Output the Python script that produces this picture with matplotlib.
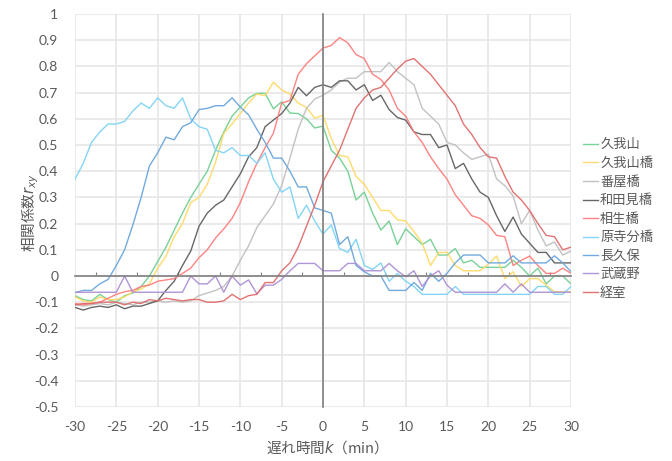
import numpy as np
import matplotlib
matplotlib.use('Agg')
import matplotlib.pyplot as plt

plt.rcParams['font.family'] = ['Lato', 'Noto Sans CJK JP', 'DejaVu Sans']
plt.rcParams['mathtext.fontset'] = 'dejavusans'

lags = list(range(-30, 31))

names = ['久我山', '久我山橋', '番屋橋', '和田見橋', '相生橋', '原寺分橋', '長久保', '武蔵野', '経室']
colors = ['#72cf92', '#ffd966', '#bfbfbf', '#5f5f5f', '#ff7c7c', '#7dd3f5', '#6aa6dc', '#ab8fd4', '#e06b6b']

kugayama = [-0.075, -0.09, -0.095, -0.07, -0.09, -0.10, -0.075, -0.065, -0.04, 0.0,
            0.055, 0.11, 0.175, 0.24, 0.30, 0.35, 0.40, 0.48, 0.55, 0.61,
            0.645, 0.68, 0.697, 0.697, 0.638, 0.665, 0.622, 0.62, 0.60, 0.565,
            0.572, 0.48, 0.45, 0.40, 0.29, 0.32, 0.24, 0.175, 0.21, 0.12,
            0.18, 0.15, 0.12, 0.14, 0.08, 0.08, 0.105, 0.05, 0.06, 0.033,
            0.033, 0.033, 0.033, 0.06, 0.033, 0.0, 0.03, -0.03, 0.0, 0.0,
            -0.03]
kugayama_bashi = [-0.08, -0.095, -0.10, -0.08, -0.09, -0.09, -0.08, -0.06, -0.05, -0.03,
                  0.03, 0.075, 0.15, 0.20, 0.28, 0.30, 0.35, 0.435, 0.545, 0.58,
                  0.62, 0.66, 0.695, 0.688, 0.74, 0.71, 0.695, 0.66, 0.643, 0.603,
                  0.613, 0.525, 0.46, 0.455, 0.38, 0.35, 0.30, 0.25, 0.25, 0.215,
                  0.21, 0.17, 0.125, 0.04, 0.09, 0.09, 0.04, 0.02, 0.02, 0.02,
                  0.045, 0.076, -0.01, 0.016, -0.04, -0.01, -0.01, -0.035, -0.06, -0.06,
                  -0.06]
banya = [-0.11, -0.115, -0.11, -0.105, -0.11, -0.10, -0.105, -0.11, -0.10, -0.10,
         -0.095, -0.10, -0.095, -0.10, -0.095, -0.075, -0.065, -0.055, -0.04, 0.0,
         0.06, 0.115, 0.185, 0.23, 0.275, 0.345, 0.45, 0.56, 0.64, 0.675,
         0.69, 0.71, 0.74, 0.755, 0.755, 0.78, 0.78, 0.78, 0.815, 0.78,
         0.755, 0.73, 0.64, 0.61, 0.58, 0.51, 0.50, 0.47, 0.445, 0.455,
         0.465, 0.37, 0.345, 0.305, 0.20, 0.25, 0.175, 0.115, 0.13, 0.08,
         0.095]
wadami = [-0.12, -0.13, -0.12, -0.115, -0.12, -0.11, -0.125, -0.115, -0.115, -0.105,
          -0.095, -0.055, -0.02, 0.04, 0.095, 0.19, 0.24, 0.27, 0.29, 0.34,
          0.39, 0.455, 0.49, 0.57, 0.595, 0.62, 0.66, 0.72, 0.688, 0.72,
          0.73, 0.72, 0.745, 0.745, 0.71, 0.73, 0.67, 0.69, 0.635, 0.605,
          0.595, 0.55, 0.54, 0.54, 0.49, 0.50, 0.41, 0.43, 0.37, 0.32,
          0.30, 0.23, 0.17, 0.225, 0.16, 0.125, 0.09, 0.09, 0.05, 0.05,
          0.05]
aioi = [-0.105, -0.11, -0.105, -0.10, -0.085, -0.07, -0.06, -0.055, -0.04, -0.035,
        -0.02, -0.015, -0.01, 0.01, 0.03, 0.07, 0.10, 0.145, 0.18, 0.22,
        0.28, 0.36, 0.43, 0.49, 0.545, 0.66, 0.67, 0.77, 0.81, 0.84,
        0.87, 0.88, 0.91, 0.89, 0.845, 0.83, 0.77, 0.75, 0.71, 0.64,
        0.61, 0.55, 0.51, 0.455, 0.41, 0.37, 0.31, 0.27, 0.23, 0.22,
        0.195, 0.155, 0.15, 0.04, 0.06, 0.076, 0.04, 0.01, 0.01, 0.03,
        0.01]
harajibun = [0.37, 0.43, 0.51, 0.55, 0.58, 0.58, 0.59, 0.63, 0.66, 0.64,
             0.68, 0.65, 0.64, 0.68, 0.60, 0.57, 0.56, 0.48, 0.47, 0.49,
             0.46, 0.46, 0.43, 0.47, 0.37, 0.32, 0.34, 0.22, 0.27, 0.21,
             0.16, 0.195, 0.105, 0.09, 0.14, 0.04, 0.025, 0.05, -0.02, 0.01,
             -0.02, -0.04, -0.07, -0.07, -0.07, -0.07, -0.04, -0.07, -0.07, -0.07,
             -0.07, -0.07, -0.07, -0.07, -0.07, -0.07, -0.04, -0.04, -0.07, -0.07,
             -0.04]
nagakubo = [-0.064, -0.055, -0.055, -0.03, -0.013, 0.04, 0.10, 0.195, 0.30, 0.42,
            0.47, 0.53, 0.52, 0.57, 0.585, 0.635, 0.64, 0.65, 0.65, 0.68,
            0.645, 0.615, 0.56, 0.51, 0.45, 0.45, 0.40, 0.34, 0.34, 0.26,
            0.25, 0.24, 0.12, 0.15, 0.04, 0.016, 0.0, 0.0, -0.055, -0.055,
            -0.055, -0.025, -0.055, 0.01, -0.02, 0.01, 0.05, 0.08, 0.08, 0.08,
            0.05, 0.05, 0.05, 0.077, 0.05, 0.05, 0.05, 0.05, 0.077, 0.05,
            0.016]
musashino = [-0.062, -0.062, -0.062, -0.062, -0.062, -0.062, 0.0, -0.062, -0.062, -0.062,
             -0.062, -0.062, -0.062, -0.062, 0.0, -0.03, -0.03, 0.0, -0.062, 0.0,
             -0.035, -0.015, -0.068, -0.035, -0.035, -0.013, 0.02, 0.048, 0.048, 0.048,
             0.02, 0.02, 0.02, 0.048, 0.048, 0.02, 0.02, 0.02, 0.048, 0.02,
             -0.003, 0.02, -0.04, 0.0, 0.02, -0.035, -0.062, -0.062, -0.062, -0.062,
             -0.062, -0.062, -0.03, -0.062, -0.03, -0.062, -0.062, -0.062, -0.062, -0.062,
             -0.062]
kyomuro = [-0.11, -0.105, -0.105, -0.10, -0.10, -0.10, -0.11, -0.10, -0.105, -0.09,
           -0.095, -0.085, -0.09, -0.095, -0.09, -0.09, -0.10, -0.10, -0.095, -0.07,
           -0.09, -0.075, -0.07, -0.025, -0.025, 0.02, 0.05, 0.11, 0.19, 0.27,
           0.36, 0.42, 0.48, 0.56, 0.64, 0.68, 0.71, 0.72, 0.755, 0.79,
           0.82, 0.83, 0.80, 0.77, 0.73, 0.69, 0.65, 0.58, 0.54, 0.49,
           0.455, 0.45, 0.38, 0.32, 0.29, 0.25, 0.20, 0.155, 0.15, 0.10,
           0.11]

series = [kugayama, kugayama_bashi, banya, wadami, aioi, harajibun, nagakubo, musashino, kyomuro]

W, H = 672, 461
fig = plt.figure(figsize=(W / 100, H / 100), dpi=100)
ax = fig.add_axes([75 / W, 1 - 407 / H, (571 - 75) / W, (407 - 14) / H])

for name, vals, col in zip(names, series, colors):
    ax.plot(lags, vals, color=col, lw=1.0, label=name, alpha=0.95)

ax.set_xlim(-30, 30)
ax.set_ylim(-0.5, 1.0)
xt = list(range(-30, 31, 5))
yt = [round(v, 1) for v in np.arange(-0.5, 1.01, 0.1)]
ax.set_xticks(xt)
ax.set_yticks(yt)
ax.set_xticks([x + 2.5 for x in xt[:-1]], minor=True)
ax.grid(True, which='major', color='#e6e6e6', lw=1.2)
ax.set_axisbelow(True)
for s in ['top', 'right']:
    ax.spines[s].set_visible(False)
ax.spines['bottom'].set_position(('data', 0))
ax.spines['left'].set_position(('data', 0))
for s in ['bottom', 'left']:
    ax.spines[s].set_color('#808080')
    ax.spines[s].set_linewidth(1.2)
ax.tick_params(which='major', length=0, labelbottom=False, labelleft=False)
ax.tick_params(axis='x', which='minor', direction='in', length=3, color='#808080', width=0.8)

txtc = '#595959'
secx = ax.secondary_xaxis('bottom')
secx.set_xticks(xt, [str(v) for v in xt])
secx.tick_params(length=0, pad=10, labelsize=10, labelcolor=txtc)
secx.spines['bottom'].set_visible(False)

def fmt(v):
    if v == 0:
        return '0'
    if v == 1:
        return '1'
    return ('%.1f' % v)

secy = ax.secondary_yaxis('left')
secy.set_yticks(yt, [fmt(v) for v in yt])
secy.tick_params(length=0, pad=12, labelsize=10, labelcolor=txtc)
secy.spines['left'].set_visible(False)

fig.text(323 / W, 1 - 447 / H, '遅れ時間$k$（min）', ha='center', va='center',
         fontsize=10.5, color=txtc, family='Noto Sans CJK JP')
fig.text(30 / W, 1 - 213 / H, '相関係数$r_{xy}$', ha='center', va='center', rotation=90,
         fontsize=10.5, color=txtc, family='Noto Sans CJK JP')

fig.legend(loc='upper left', bbox_to_anchor=(583 / W, 1 - 138 / H), frameon=False,
           fontsize=9.5, handlelength=1.1, handletextpad=0.2, labelspacing=0.45,
           labelcolor=txtc, borderaxespad=0, borderpad=0)

fig.savefig('out.png', dpi=100)
